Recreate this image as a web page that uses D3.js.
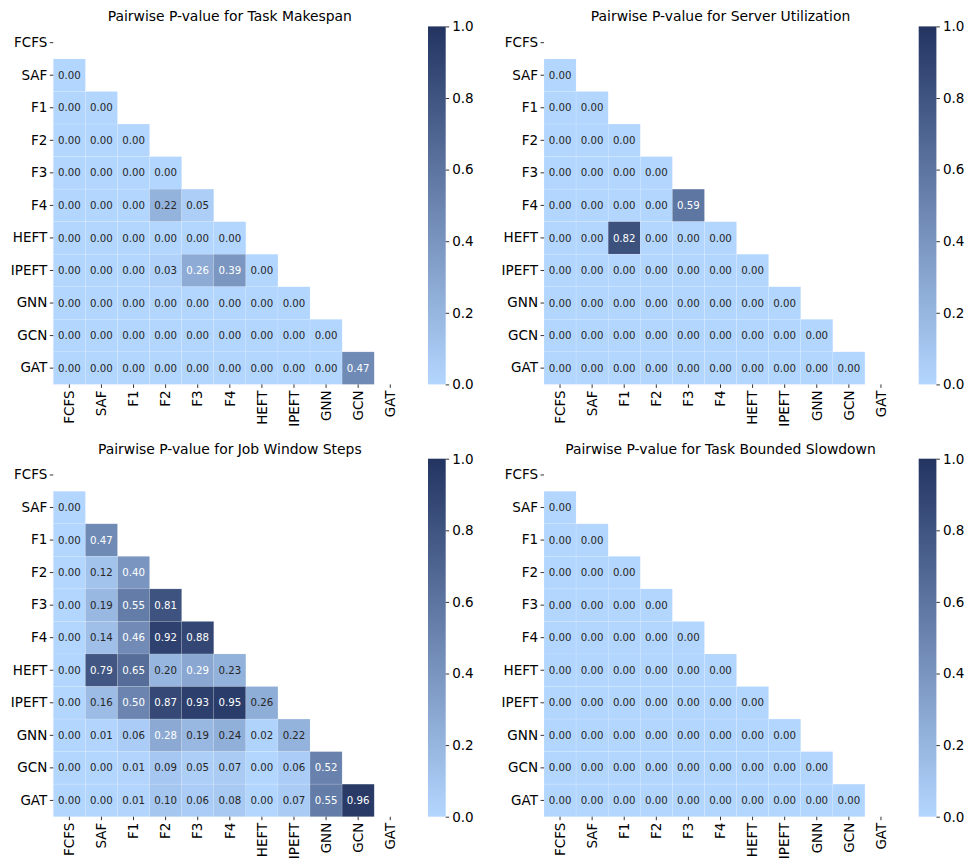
<!DOCTYPE html>
<html>
<head>
<meta charset="utf-8">
<script src="https://cdn.jsdelivr.net/npm/d3@7"></script>
<style>
  body { margin: 0; background: #fff; }
  svg { display: block; font-family: "DejaVu Sans", sans-serif; }
</style>
</head>
<body>
<div id="chart"></div>
<script>
const methods = ['FCFS', 'SAF', 'F1', 'F2', 'F3', 'F4', 'HEFT', 'IPEFT', 'GNN', 'GCN', 'GAT'];
const colorbarTicks = [0, 0.2, 0.4, 0.6, 0.8, 1.0];

const titles = [
    'Pairwise P-value for Task Makespan',
    'Pairwise P-value for Server Utilization',
    'Pairwise P-value for Job Window Steps',
    'Pairwise P-value for Task Bounded Slowdown',
];

// lower triangle, row i holds p-values against methods 0..i-1
const makespan = [
    [],
    [0.00],
    [0.00, 0.00],
    [0.00, 0.00, 0.00],
    [0.00, 0.00, 0.00, 0.00],
    [0.00, 0.00, 0.00, 0.22, 0.05],
    [0.00, 0.00, 0.00, 0.00, 0.00, 0.00],
    [0.00, 0.00, 0.00, 0.03, 0.264, 0.39, 0.00],
    [0.00, 0.00, 0.00, 0.00, 0.00, 0.00, 0.00, 0.00],
    [0.00, 0.00, 0.00, 0.00, 0.00, 0.00, 0.00, 0.00, 0.00],
    [0.00, 0.00, 0.00, 0.00, 0.00, 0.00, 0.00, 0.00, 0.00, 0.47],
];

const utilization = [
    [],
    [0.00],
    [0.00, 0.00],
    [0.00, 0.00, 0.00],
    [0.00, 0.00, 0.00, 0.00],
    [0.00, 0.00, 0.00, 0.00, 0.59],
    [0.00, 0.00, 0.82, 0.00, 0.00, 0.00],
    [0.00, 0.00, 0.00, 0.00, 0.00, 0.00, 0.00],
    [0.00, 0.00, 0.00, 0.00, 0.00, 0.00, 0.00, 0.00],
    [0.00, 0.00, 0.00, 0.00, 0.00, 0.00, 0.00, 0.00, 0.00],
    [0.00, 0.00, 0.00, 0.00, 0.00, 0.00, 0.00, 0.00, 0.00, 0.00],
];

const windowSteps = [
    [],
    [0.00],
    [0.00, 0.47],
    [0.00, 0.12, 0.40],
    [0.00, 0.19, 0.55, 0.81],
    [0.00, 0.14, 0.46, 0.92, 0.88],
    [0.00, 0.79, 0.65, 0.20, 0.29, 0.23],
    [0.00, 0.16, 0.50, 0.87, 0.93, 0.95, 0.256],
    [0.00, 0.01, 0.06, 0.28, 0.19, 0.24, 0.02, 0.22],
    [0.00, 0.00, 0.01, 0.09, 0.05, 0.07, 0.00, 0.06, 0.52],
    [0.00, 0.00, 0.01, 0.10, 0.06, 0.08, 0.00, 0.07, 0.55, 0.96],
];

const slowdown = [
    [],
    [0.00],
    [0.00, 0.00],
    [0.00, 0.00, 0.00],
    [0.00, 0.00, 0.00, 0.00],
    [0.00, 0.00, 0.00, 0.00, 0.00],
    [0.00, 0.00, 0.00, 0.00, 0.00, 0.00],
    [0.00, 0.00, 0.00, 0.00, 0.00, 0.00, 0.00],
    [0.00, 0.00, 0.00, 0.00, 0.00, 0.00, 0.00, 0.00],
    [0.00, 0.00, 0.00, 0.00, 0.00, 0.00, 0.00, 0.00, 0.00],
    [0.00, 0.00, 0.00, 0.00, 0.00, 0.00, 0.00, 0.00, 0.00, 0.00],
];

const matrices = [makespan, utilization, windowSteps, slowdown];

const width = 969;
const height = 862;
const lightColor = '#b3d6ff';
const darkColor = '#233461';
const color = d3.scaleLinear().domain([0, 1]).range([lightColor, darkColor]).interpolate(d3.interpolateRgb);

// heatmap box inside each panel
const mapW = 353;
const mapH = 358;
const origins = [
    { x: 53.3, y: 26.4 },
    { x: 544, y: 26.4 },
    { x: 53.3, y: 458.7 },
    { x: 544, y: 458.7 },
];

const svg = d3.select('#chart').append('svg')
    .attr('width', width)
    .attr('height', height);

const defs = svg.append('defs');
const grad = defs.append('linearGradient')
    .attr('id', 'cbar')
    .attr('x1', 0).attr('y1', 1)
    .attr('x2', 0).attr('y2', 0);
grad.append('stop').attr('offset', '0%').attr('stop-color', lightColor);
grad.append('stop').attr('offset', '100%').attr('stop-color', darkColor);

matrices.forEach((matrix, k) => {
    const o = origins[k];
    const g = svg.append('g').attr('transform', `translate(${o.x},${o.y})`);

    const x = d3.scaleBand().domain(methods).range([0, mapW]);
    const y = d3.scaleBand().domain(methods).range([0, mapH]);

    const cells = [];
    matrix.forEach((row, i) => {
        row.forEach((v, j) => {
            cells.push({ row: methods[i], col: methods[j], v });
        });
    });

    g.selectAll('rect.cell')
        .data(cells)
        .enter()
        .append('rect')
        .attr('class', 'cell')
        .attr('x', (d) => x(d.col))
        .attr('y', (d) => y(d.row))
        .attr('width', x.bandwidth())
        .attr('height', y.bandwidth())
        .attr('fill', (d) => color(d.v))
        .attr('stroke', '#ffffff')
        .attr('stroke-opacity', 0.2)
        .attr('stroke-width', 0.6);

    g.selectAll('text.annot')
        .data(cells)
        .enter()
        .append('text')
        .attr('class', 'annot')
        .attr('x', (d) => x(d.col) + x.bandwidth() / 2)
        .attr('y', (d) => y(d.row) + y.bandwidth() / 2)
        .attr('dy', '0.35em')
        .attr('text-anchor', 'middle')
        .attr('font-size', '10.2px')
        .attr('fill', (d) => (d.v > 0.26 ? '#ffffff' : '#262626'))
        .text((d) => d3.format('.2f')(d.v));

    // axes
    g.append('g')
        .call(d3.axisLeft(y).tickSize(3.5).tickPadding(2.5))
        .call((a) => a.select('.domain').remove())
        .call((a) => a.selectAll('.tick line').attr('stroke', '#000').attr('stroke-width', 0.8))
        .call((a) => a.selectAll('.tick text')
            .attr('fill', '#000')
            .attr('font-size', '13.5px')
            .attr('font-family', '"DejaVu Sans", sans-serif'));

    g.append('g')
        .attr('transform', `translate(0,${mapH})`)
        .call(d3.axisBottom(x).tickSize(3.5).tickPadding(2.5))
        .call((a) => a.select('.domain').remove())
        .call((a) => a.selectAll('.tick line').attr('stroke', '#000').attr('stroke-width', 0.8))
        .call((a) => a.selectAll('.tick text')
            .attr('fill', '#000')
            .attr('font-size', '13.5px')
            .attr('font-family', '"DejaVu Sans", sans-serif')
            .attr('transform', 'rotate(-90)')
            .attr('text-anchor', 'end')
            .attr('x', -6)
            .attr('y', 0)
            .attr('dy', '0.35em'));

    g.append('text')
        .attr('x', mapW / 2)
        .attr('y', -5)
        .attr('text-anchor', 'middle')
        .attr('font-size', '13.9px')
        .attr('fill', '#000')
        .text(titles[k]);

    // colorbar
    const cb = g.append('g').attr('transform', 'translate(374.7,0)');
    cb.append('rect')
        .attr('width', 17.7)
        .attr('height', mapH)
        .attr('fill', 'url(#cbar)');
    const cScale = d3.scaleLinear().domain([0, 1]).range([mapH, 0]);
    cb.append('g')
        .attr('transform', 'translate(17.7,0)')
        .call(d3.axisRight(cScale).tickValues(colorbarTicks).tickFormat(d3.format('.1f')).tickSize(3.5).tickPadding(3))
        .call((a) => a.select('.domain').remove())
        .call((a) => a.selectAll('.tick line').attr('stroke', '#000').attr('stroke-width', 0.8))
        .call((a) => a.selectAll('.tick text')
            .attr('fill', '#000')
            .attr('font-size', '13.5px')
            .attr('font-family', '"DejaVu Sans", sans-serif'));
});
</script>
</body>
</html>
